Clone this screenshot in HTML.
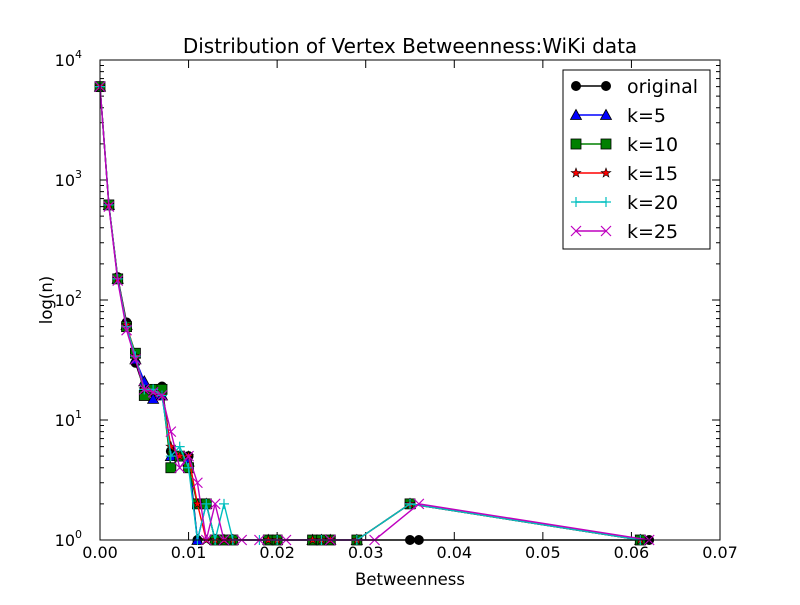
<!DOCTYPE html>
<html><head><meta charset="utf-8"><style>
html,body{margin:0;padding:0;background:#fff;}
svg text{font-family:"DejaVu Sans","Liberation Sans",sans-serif;}
</style></head><body>
<svg id="c" width="800" height="600" viewBox="0 0 800 600" xmlns="http://www.w3.org/2000/svg">
<rect x="0" y="0" width="800" height="600" fill="#fff"/>
<text x="410" y="53" font-size="20" text-anchor="middle">Distribution of Vertex Betweenness:WiKi data</text>
<text x="410" y="585" font-size="16.5" text-anchor="middle">Betweenness</text>
<text x="52" y="300" font-size="16.5" text-anchor="middle" transform="rotate(-90 52 300)">log(n)</text>
<g id="ticks"></g>
<g id="series"></g>
<rect x="100" y="60" width="620" height="480" fill="none" stroke="#000" stroke-width="1"/>
<g id="legend"></g>
</svg>
<script>
const xTicks=[0,0.01,0.02,0.03,0.04,0.05,0.06,0.07];
const xTickLabels=["0.00","0.01","0.02","0.03","0.04","0.05","0.06","0.07"];
const yDecades=[0,1,2,3,4];
const seriesNames=["original","k=5","k=10","k=15","k=20","k=25"];
const xOriginal=[0,0.001,0.002,0.003,0.004,0.005,0.006,0.007,0.008,0.009,0.010,0.011,0.035,0.036,0.062];
const yOriginal=[6000,620,155,65,30,18,17,19,5.5,5,5,1,1,1,1];
const xK5=[0,0.001,0.002,0.003,0.004,0.005,0.006,0.007,0.008,0.009,0.010,0.011,0.012,0.013,0.014,0.015,0.019,0.020,0.024,0.025,0.026,0.029,0.035,0.061];
const yK5=[6000,620,150,62,32,21,15,16,5,5,4.5,1,2,1,1,1,1,1,1,1,1,1,2,1];
const xK10=[0,0.001,0.002,0.003,0.004,0.005,0.006,0.007,0.008,0.009,0.010,0.011,0.012,0.013,0.014,0.015,0.019,0.020,0.024,0.025,0.026,0.029,0.035,0.061];
const yK10=[6000,620,150,60,36,16,18,18,4,5,4,2,2,1,1,1,1,1,1,1,1,1,2,1];
const xK15=[0,0.001,0.002,0.003,0.004,0.005,0.006,0.007,0.008,0.009,0.010,0.011,0.012,0.013,0.014,0.015,0.019,0.020,0.024,0.025,0.026,0.029,0.035,0.061];
const yK15=[6000,620,150,62,34,18,17,16,6,5,5,2,1,1,1,1,1,1,1,1,1,1,2,1];
const xK20=[0,0.001,0.002,0.003,0.004,0.005,0.006,0.007,0.008,0.009,0.010,0.011,0.012,0.013,0.014,0.015,0.018,0.020,0.025,0.029,0.035,0.061];
const yK20=[6000,620,150,60,34,18,18,16,5,6,4,1,2,1,2,1,1,1,1,1,2,1];
const xK25=[0,0.001,0.002,0.003,0.004,0.005,0.006,0.007,0.008,0.009,0.010,0.011,0.012,0.013,0.014,0.016,0.018,0.021,0.026,0.031,0.036,0.062];
const yK25=[6000,600,145,56,32,18,17,16,8,4,5,3,1,2,1,1,1,1,1,1,2,1];

const NS="http://www.w3.org/2000/svg";
const X=v=>100+v/0.07*620;
const Y=v=>540-Math.log10(v)*120;
function mk(tag,attrs,parent){const e=document.createElementNS(NS,tag);for(const k in attrs)e.setAttribute(k,attrs[k]);parent.appendChild(e);return e;}
const ticks=document.getElementById('ticks');
xTicks.forEach((t,i)=>{
  const l1=mk('line',{x1:X(t),x2:X(t),y1:540,y2:532,stroke:'#000'},ticks);
  
  
  const l2=mk('line',{x1:X(t),x2:X(t),y1:60,y2:68,stroke:'#000'},ticks);
  
  
  const tx=mk('text',{x:X(t),y:558,'font-size':16,'text-anchor':'middle'},ticks);
  tx.textContent=xTickLabels[i];
  
  
});
yDecades.forEach(d=>{
  const y=Y(Math.pow(10,d));
  const l=mk('line',{x1:100,x2:108,y1:y,y2:y,stroke:'#000'},ticks);
  
  
  const l2=mk('line',{x1:712,x2:720,y1:y,y2:y,stroke:'#000'},ticks);
  
  
  const tx=mk('text',{x:82,y:y+6,'font-size':16,'text-anchor':'end'},ticks);
  tx.innerHTML='10<tspan dy="-8" font-size="11">'+d+'</tspan>';
  
  
  if(d<4){for(let m=2;m<10;m++){const yy=Y(m*Math.pow(10,d));
    const a=mk('line',{x1:100,x2:104,y1:yy,y2:yy,stroke:'#000'},ticks);
    
    
    const b=mk('line',{x1:716,x2:720,y1:yy,y2:yy,stroke:'#000'},ticks);
    
    }}
});
const styles=[
 {c:'#000',m:'circle'},{c:'#0000ff',m:'tri'},{c:'#008000',m:'square'},
 {c:'#ff0000',m:'star'},{c:'#00bfbf',m:'plus'},{c:'#bf00bf',m:'x'}];
const data=[[xOriginal,yOriginal],[xK5,yK5],[xK10,yK10],[xK15,yK15],[xK20,yK20],[xK25,yK25]];
function marker(g,m,c,x,y){
  let e;
  if(m==='circle')e=mk('circle',{cx:x,cy:y,r:4.5,fill:c,stroke:'#000'},g);
  else if(m==='tri')e=mk('polygon',{points:`${x},${y-5.5} ${x-5.5},${y+4.5} ${x+5.5},${y+4.5}`,fill:c,stroke:'#000','stroke-width':0.8},g);
  else if(m==='square')e=mk('rect',{x:x-5,y:y-5,width:10,height:10,fill:c,stroke:'#000','stroke-width':0.8},g);
  else if(m==='star'){let p=[];for(let i=0;i<10;i++){const r=i%2?2:5,a=-Math.PI/2+i*Math.PI/5;p.push((x+r*Math.cos(a)).toFixed(1)+','+(y+r*Math.sin(a)).toFixed(1));}
    e=mk('polygon',{points:p.join(' '),fill:c,stroke:'#000','stroke-width':0.6},g);}
  else if(m==='plus')e=mk('path',{d:`M${x-5},${y}H${x+5}M${x},${y-5}V${y+5}`,stroke:c,'stroke-width':1.2},g);
  else e=mk('path',{d:`M${x-5},${y-5}L${x+5},${y+5}M${x-5},${y+5}L${x+5},${y-5}`,stroke:c,'stroke-width':1.2},g);
  
  
}
const sg=document.getElementById('series');
data.forEach((d,i)=>{
  const g=mk('g',{},sg);
  
  
  const pts=d[0].map((x,j)=>X(x).toFixed(1)+','+Y(d[1][j]).toFixed(1)).join(' ');
  const pl=mk('polyline',{points:pts,fill:'none',stroke:styles[i].c,'stroke-width':1.4},g);
  
  
  d[0].forEach((x,j)=>marker(g,styles[i].m,styles[i].c,X(x),Y(d[1][j])));
});
const lg=document.getElementById('legend');
const box=mk('rect',{x:563,y:70,width:147,height:179,fill:'#fff',stroke:'#000'},lg);


seriesNames.forEach((n,i)=>{
  const y=86+i*29;
  const g=mk('g',{},lg);
  
  
  mk('line',{x1:576,x2:606,y1:y,y2:y,stroke:styles[i].c,'stroke-width':1.4},g);
  marker(g,styles[i].m,styles[i].c,576,y);
  marker(g,styles[i].m,styles[i].c,606,y);
  const t=mk('text',{x:627,y:y+7,'font-size':19},g);
  t.textContent=n;
  
  
});
</script>
</body></html>
